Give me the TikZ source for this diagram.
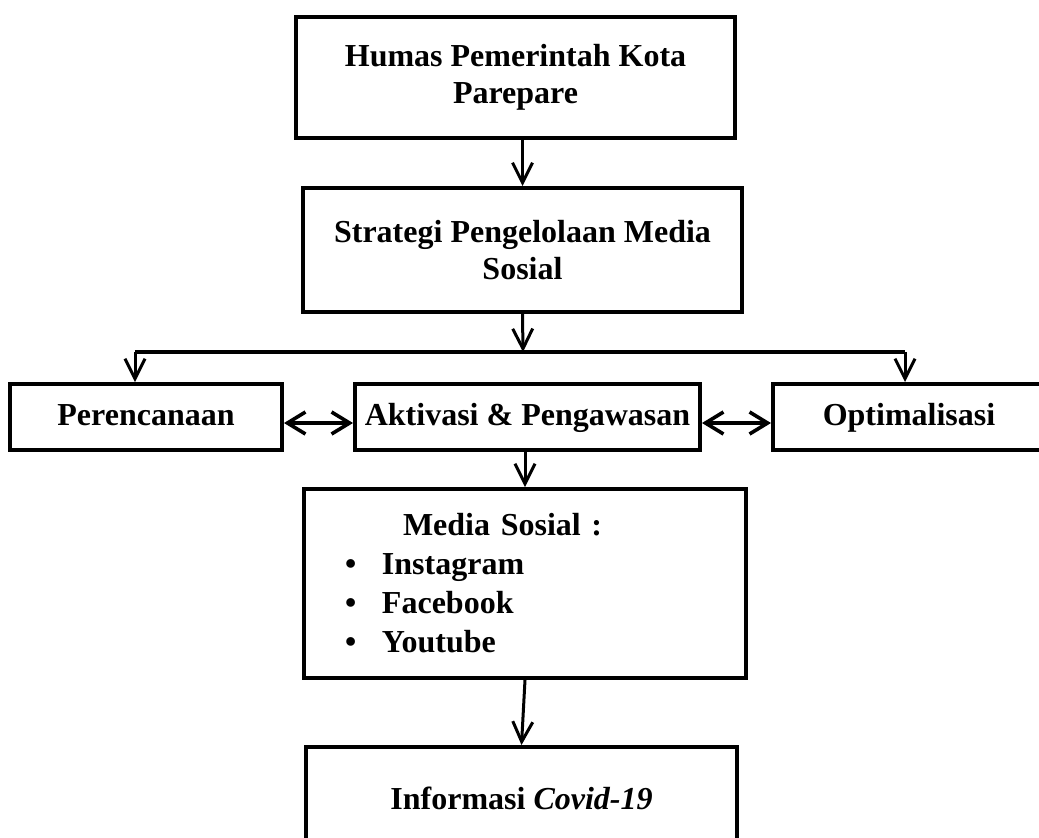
\documentclass[tikz,border=0pt]{standalone}
\usepackage{fontspec}
\setmainfont{Liberation Serif}
\usetikzlibrary{arrows.meta}

\begin{document}
\begin{tikzpicture}[x=0.5pt, y=-0.5pt, auto,
  process/.style={rectangle, draw=black, line width=2pt, align=center, font=\bfseries\fontsize{16}{18.5}\selectfont},
  rowbox/.style={process, minimum height=33pt, text height=11.5pt, text depth=3.5pt},
  listbox/.style={process, align=left, text width=180pt, inner xsep=20.5pt, minimum height=94.5pt, font=\bfseries\fontsize{16}{19.5}\selectfont},
  arrow/.style={line width=1.5pt, -{Straight Barb[length=10pt, width=10pt]}},
  darrow/.style={line width=1.8pt, {Straight Barb[length=9pt, width=11pt]}-{Straight Barb[length=9pt, width=11pt]}},
  split/.style={line width=2pt}
]
\clip (0,0) rectangle (1039,837);

\node (humas) [process, minimum width=219.5pt, minimum height=60.5pt] at (515.5,77.5) {Humas Pemerintah Kota\\Parepare};
\node (strategi) [process, minimum width=219.5pt, minimum height=62pt, below of=humas, node distance=86.25pt, xshift=3.5pt] {Strategi Pengelolaan Media\\Sosial};
\node (aktivasi) [rowbox, minimum width=172.5pt, below of=strategi, node distance=83.5pt, xshift=2.5pt] {Aktivasi \& Pengawasan};
\node (perencanaan) [rowbox, minimum width=136pt, left of=aktivasi, node distance=190.75pt] {Perencanaan};
\node (optimalisasi) [rowbox, minimum width=136pt, right of=aktivasi, node distance=190.75pt] {Optimalisasi};
\node (media) [listbox, below of=aktivasi, node distance=83.25pt, xshift=-1.25pt] {\hspace*{29pt}Media Sosial :\\
  \makebox[18.5pt][l]{\textbullet}Instagram\\
  \makebox[18.5pt][l]{\textbullet}Facebook\\
  \makebox[18.5pt][l]{\textbullet}Youtube};
\node (info) [process, minimum width=215.5pt, minimum height=51pt, below of=media, node distance=107.25pt, xshift=-1.75pt] {Informasi \textit{Covid-19}};

\coordinate (split) at (523,352);
\coordinate (lsplit) at (135,352);
\coordinate (rsplit) at (905,352);

\draw [arrow] (humas.south -| strategi.north) -- (strategi.north);
\draw [arrow] (strategi.south) -- (split);
\draw [split] (lsplit) -- (rsplit);
\draw [arrow] (lsplit) -- (lsplit |- perencanaan.north);
\draw [arrow] (rsplit) -- (rsplit |- optimalisasi.north);
\draw [darrow] ([yshift=-3pt]perencanaan.east) -- ([yshift=-3pt]aktivasi.west);
\draw [darrow] ([yshift=-3pt]aktivasi.east) -- ([yshift=-3pt]optimalisasi.west);
\draw [arrow] (aktivasi.south -| media.north) -- (media.north);
\draw [arrow] (media.south) -- (info.north);

\end{tikzpicture}
\end{document}
